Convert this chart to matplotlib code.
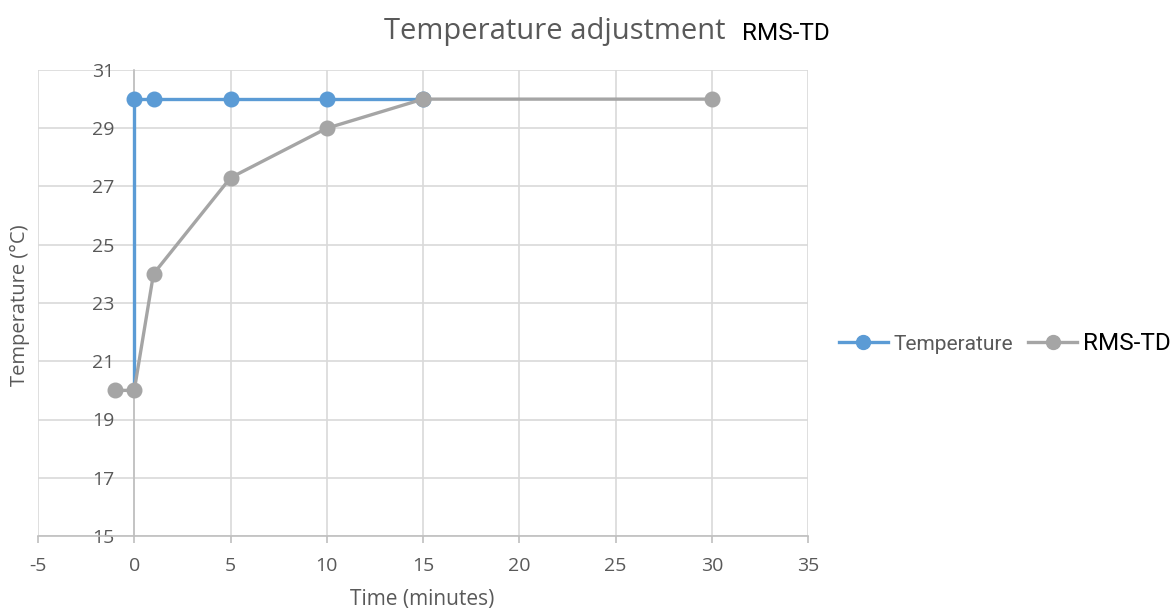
import matplotlib
matplotlib.use("Agg")
import matplotlib.pyplot as plt
from matplotlib.lines import Line2D

plt.rcParams["axes.unicode_minus"] = False

# Data
temp_x = [0, 0, 1, 5, 10, 15]
temp_y = [20, 30, 30, 30, 30, 30]
temp_marker_x = [0, 1, 5, 10, 15]
temp_marker_y = [30, 30, 30, 30, 30]
rms_x = [-1, 0, 1, 5, 10, 15, 30]
rms_y = [20, 20, 24, 27.3, 29, 30, 30]
x_ticks = [-5, 0, 5, 10, 15, 20, 25, 30, 35]
y_ticks = [15, 17, 19, 21, 23, 25, 27, 29, 31]

BLUE = "#5b9bd5"
GRAY = "#a5a5a5"
TXT = "#595959"
GRID = "#d9d9d9"

fig = plt.figure(figsize=(11.72, 6.10), dpi=100)
ax = fig.add_axes([38/1172, 1 - 536/610, (808-38)/1172, (536-70)/610])

ax.plot(temp_x, temp_y, color=BLUE, lw=2.4, zorder=3)
ax.plot(temp_marker_x, temp_marker_y, ls="none", marker="o", ms=10.5, color=BLUE, zorder=3)
ax.plot(rms_x, rms_y, color=GRAY, lw=2.4, marker="o", ms=10.5, zorder=4)

ax.set_xlim(-5, 35)
ax.set_ylim(15, 31)
ax.set_xticks(x_ticks)
ax.set_yticks(y_ticks)
ax.grid(True, color=GRID, lw=1.2, zorder=0)
ax.set_axisbelow(True)

for s in ["top", "right"]:
    ax.spines[s].set_visible(False)
ax.spines["left"].set_position(("data", 0))
ax.spines["left"].set_color("#bfbfbf")
ax.spines["left"].set_linewidth(1.2)
ax.spines["bottom"].set_color("#bfbfbf")
ax.spines["bottom"].set_linewidth(1.2)

ax.tick_params(axis="y", length=0, pad=14, labelsize=14, labelcolor=TXT)
ax.tick_params(axis="x", length=5, width=1.2, color="#bfbfbf", pad=10, labelsize=14, labelcolor=TXT)
for lab in ax.get_xticklabels() + ax.get_yticklabels():
    lab.set_family("Open Sans")

fig.text(20/1172, 1 - 305/610, "Temperature (°C)", rotation=90, ha="center", va="center",
         fontsize=14.5, color=TXT, family="Open Sans")
fig.text(422/1172, 1 - 600/610, "Time (minutes)", ha="center", va="center",
         fontsize=15, color=TXT, family="Open Sans")

fig.text(384/1172, 1 - 32/610, "Temperature adjustment", ha="left", va="center",
         fontsize=21, color=TXT, family="Open Sans")
fig.text(742/1172, 1 - 34/610, "RMS-TD", ha="left", va="center",
         fontsize=17.5, color="black", family="Roboto")

handles = [Line2D([], [], color=BLUE, lw=2.4, marker="o", ms=10),
           Line2D([], [], color=GRAY, lw=2.4, marker="o", ms=10)]
leg = fig.legend(handles, ["Temperature", "RMS-TD"], loc="center left",
                 bbox_to_anchor=(839/1172, 1 - 343/610), ncol=2, frameon=False,
                 prop={"family": "Roboto", "size": 15},
                 handlelength=2.35, handletextpad=0.25, columnspacing=0.75,
                 borderpad=0, borderaxespad=0)
t1, t2 = leg.get_texts()
t1.set_color(TXT); t1.set_fontsize(15)
t2.set_color("black"); t2.set_fontsize(17.5)

fig.savefig("out.png", dpi=100)
